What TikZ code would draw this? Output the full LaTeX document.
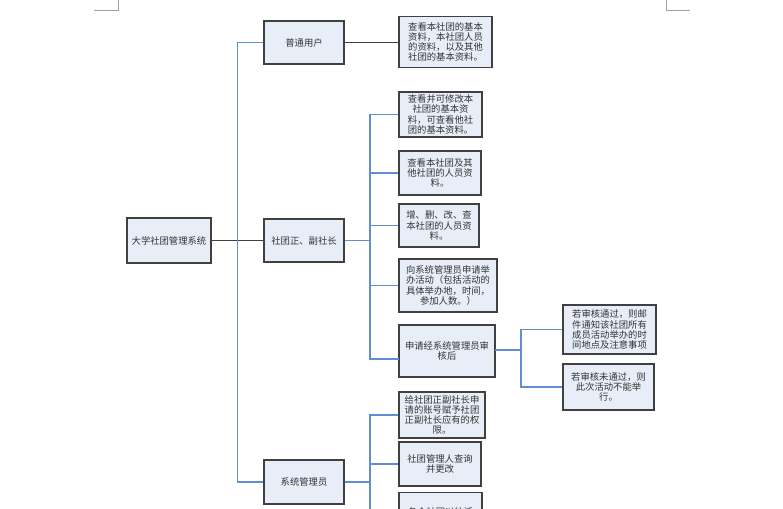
\documentclass[tikz,border=0pt]{standalone}
\usepackage{fontspec}
\newfontfamily\cjk{Noto Sans CJK SC}
\definecolor{boxfill}{RGB}{232,238,248}
\definecolor{boxline}{RGB}{64,64,64}
\definecolor{treeblue}{RGB}{96,142,210}
\definecolor{markgray}{RGB}{160,160,160}
\tikzset{
  box/.style={draw=boxline, line width=1.1pt, fill=boxfill, align=center, inner sep=1pt,
    font=\cjk\fontsize{7}{7.6}\selectfont, text=black!80},
  bx/.style 2 args={box, minimum width=#1*0.75pt, minimum height=#2*0.75pt},
  bl/.style={draw=treeblue, line width=0.8pt},
  kl/.style={draw=black!75, line width=0.8pt},
  mk/.style={draw=markgray, line width=0.75pt}
}
\begin{document}
\begin{tikzpicture}[x=0.75pt,y=-0.75pt]
\useasboundingbox (0,0) rectangle (783,508);
\clip (0,0) rectangle (783,508);
\fill[white] (0,0) rectangle (783,508);
% corner marks
\coordinate (ml1) at (94,10); \coordinate (ml2) at (118,10); \coordinate (ml3) at (118,0);
\coordinate (mr1) at (666,0); \coordinate (mr2) at (666,10); \coordinate (mr3) at (690,10);
\draw[mk] (ml1) -- (ml2) -- (ml3);
\draw[mk] (mr1) -- (mr2) -- (mr3);
% main nodes
\node[bx={84}{45}] (root) at (169,240.5) {大学社团管理系统};
\node[bx={80}{43}] (u1) at (304,42.5) {普通用户};
\node[bx={80}{43}] (u2) at (304,240.5) {社团正、副社长};
\node[bx={80}{44}] (u3) at (304,482) {系统管理员};
\node[bx={93}{51}] (L1) at (445.5,42) {查看本社团的基本\\资料，本社团人员\\的资料，以及其他\\社团的基本资料。};
\node[bx={83}{45}] (S1) at (440.5,114.5) {查看并可修改本\\社团的基本资\\料，可查看他社\\团的基本资料。};
\node[bx={82}{44}] (S2) at (440,173) {查看本社团及其\\他社团的人员资\\料。};
\node[bx={80}{43}] (S3) at (439,225.5) {增、删、改、查\\本社团的人员资\\料。};
\node[bx={98}{53}] (S4) at (448,285.5) {向系统管理员申请举\\办活动（包括活动的\\具体举办地，时间，\\参加人数。）};
\node[bx={96}{52}] (S5) at (447,351) {申请经系统管理员审\\核后};
\node[bx={93}{49}] (R1) at (609.5,329.5) {若审核通过，则邮\\件通知该社团所有\\成员活动举办的时\\间地点及注意事项};
\node[bx={91}{46}] (R2) at (608.5,387) {若审核未通过，则\\此次活动不能举\\行。};
\node[bx={86}{46}] (A1) at (442,415) {给社团正副社长申\\请的账号赋予社团\\正副社长应有的权\\限。};
\node[bx={82}{44}] (A2) at (440,464) {社团管理人查询\\并更改};
\node[bx={83}{48}, anchor=north] (A3) at (440.5,492) {各个社团以往活\\动的资料};
% connectors
\draw[kl] (root.east) -- (u2.west);
\draw[bl] (u1.west) -- ++(-26,0) coordinate (t1) |- (u3.west);
\draw[kl] (u1.east) -- (u1.east -| L1.west);
% 社团正副社长 branch
\coordinate (b2) at (370,240.5);
\draw[bl] (u2.east) -- (b2);
\draw[bl] (S1.west) -| (b2);
\draw[bl] (S2.west) -| (b2);
\draw[bl] (S3.west) -| (b2);
\draw[bl] (S4.west) -| (b2);
\coordinate (s5in) at (399,359);
\draw[bl] (s5in) -| (b2);
% 审核 branch
\coordinate (s5out) at (495,350);
\coordinate (b5) at (521,350);
\draw[bl] (s5out) -- (b5);
\draw[bl] (R1.west) -| (b5);
\draw[bl] (R2.west) -| (b5);
% 系统管理员 branch
\coordinate (b3) at (370,482);
\draw[bl] (u3.east) -- (b3);
\draw[bl] (A1.west) -| (b3);
\draw[bl] (A2.west) -| (b3);
\coordinate (a3in) at (399,516);
\draw[bl] (a3in) -| (b3);
\end{tikzpicture}
\end{document}
